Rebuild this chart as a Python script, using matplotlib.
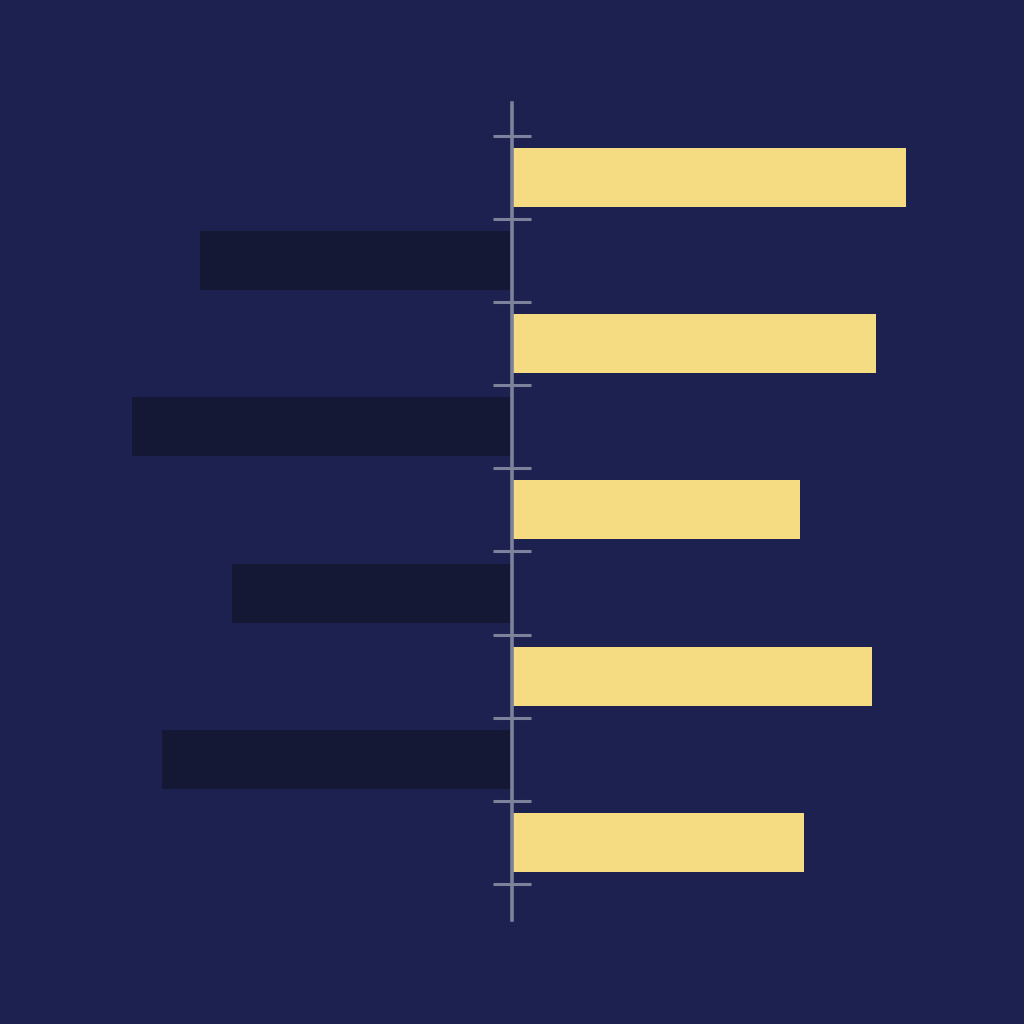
import matplotlib
matplotlib.use('Agg')
import matplotlib.pyplot as plt
import numpy as np

# one bar per row, top to bottom; positive = right (yellow), negative = left (dark)
rows = ['A', 'B', 'C', 'D', 'E', 'F', 'G', 'H', 'I']
values = [98.5, -78, 91, -95, 72, -70, 90, -87.5, 73]

bg = '#1c2150'
pos_color = '#f5dc82'
neg_color = '#151834'
axis_color = '#7c819c'

fig = plt.figure(figsize=(10.24, 10.24), dpi=100, facecolor=bg)
ax = fig.add_axes([0, 0, 1, 1], facecolor=bg)

y = np.arange(len(rows))
colors = [pos_color if v > 0 else neg_color for v in values]
ax.barh(y, values, height=0.71, color=colors, zorder=2)

ax.set_xlim(-128, 128)
ax.set_ylim(10.186, -2.136)

# centre axis with ticks between rows
for s in ['top', 'right', 'bottom']:
    ax.spines[s].set_visible(False)
ax.spines['left'].set_position(('data', 0))
ax.spines['left'].set_bounds(-0.896, 8.935)
ax.spines['left'].set_color(axis_color)
ax.spines['left'].set_linewidth(2.6)
ax.spines['left'].set_zorder(3)
ax.set_yticks(np.arange(len(rows) + 1) - 0.5)
ax.set_yticklabels([])
ax.tick_params(axis='y', direction='inout', length=27, width=2.2, color=axis_color)
ax.set_xticks([])

fig.savefig('out.png', dpi=100, facecolor=bg)
